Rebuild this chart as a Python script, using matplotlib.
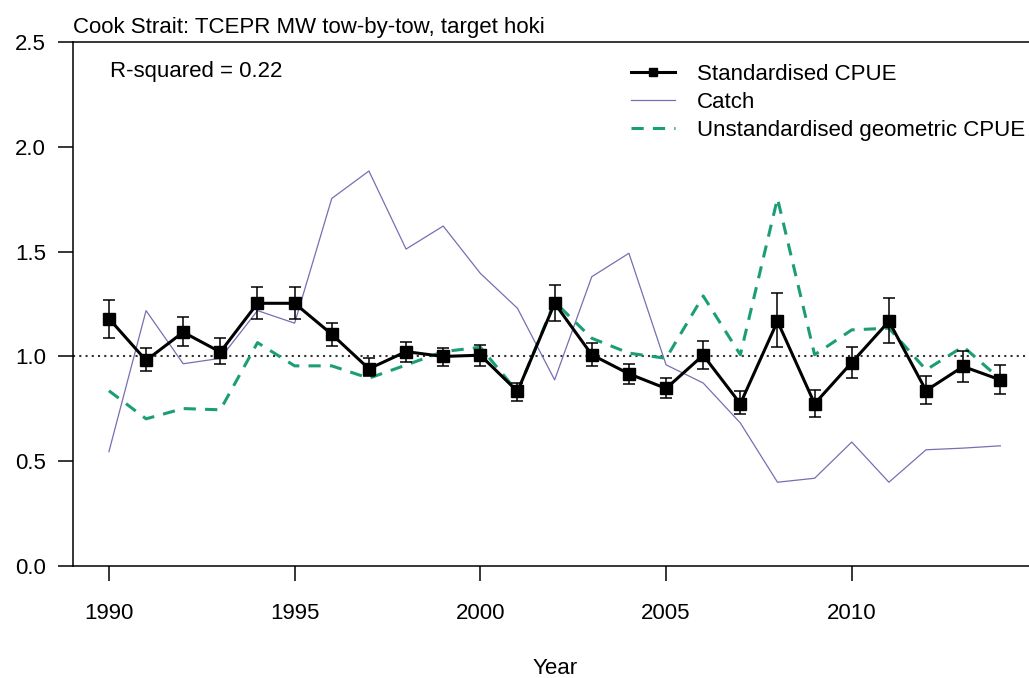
import matplotlib
matplotlib.use("Agg")
import matplotlib.pyplot as plt

plt.rcParams['font.family'] = ['Liberation Sans', 'DejaVu Sans']
plt.rcParams['font.size'] = 16

# data
years = list(range(1990, 2015))
std_cpue = [1.18, 0.98, 1.115, 1.02, 1.253, 1.253, 1.105, 0.94, 1.022, 0.999,
            1.005, 0.832, 1.253, 1.007, 0.916, 0.846, 1.005, 0.773, 1.167, 0.773,
            0.97, 1.167, 0.836, 0.951, 0.887]
std_upper = [1.27, 1.04, 1.187, 1.088, 1.331, 1.331, 1.161, 0.99, 1.07, 1.041,
             1.054, 0.872, 1.342, 1.062, 0.964, 0.898, 1.075, 0.833, 1.304, 0.84,
             1.042, 1.279, 0.905, 1.027, 0.956]
std_lower = [1.088, 0.93, 1.05, 0.964, 1.178, 1.178, 1.05, 0.906, 0.972, 0.951,
             0.951, 0.787, 1.166, 0.951, 0.865, 0.80, 0.938, 0.724, 1.043, 0.71,
             0.898, 1.062, 0.773, 0.878, 0.819]
catch = [0.544, 1.218, 0.964, 0.99, 1.218, 1.158, 1.754, 1.885, 1.512, 1.622,
         1.396, 1.229, 0.887, 1.38, 1.492, 0.959, 0.872, 0.681, 0.398, 0.417,
         0.59, 0.398, 0.553, 0.561, 0.572]
unstd_cpue = [0.835, 0.701, 0.75, 0.744, 1.065, 0.954, 0.954, 0.895, 0.958, 1.022,
              1.043, 0.83, 1.26, 1.086, 1.015, 0.99, 1.288, 1.007, 1.754, 1.007,
              1.126, 1.134, 0.935, 1.046, 0.89]

err_low = [m - l for m, l in zip(std_cpue, std_lower)]
err_high = [u - m for m, u in zip(std_cpue, std_upper)]

fig = plt.figure(figsize=(10.29, 6.78), dpi=100)
ax = fig.add_axes([0.0712, 0.1659, 0.9356, 0.7717])

ax.axhline(1.0, color='#333333', linestyle=(0, (1, 2)), linewidth=1.5, zorder=1)
ax.plot(years, catch, color='#7570B3', linewidth=0.9, label='Catch', zorder=2)
ax.plot(years, unstd_cpue, color='#1B9E77', linewidth=2.2, dashes=(4, 3),
        label='Unstandardised geometric CPUE', zorder=3)
ax.errorbar(years, std_cpue, yerr=[err_low, err_high], fmt='none', ecolor='black',
            elinewidth=1.1, capsize=4, capthick=1.1, zorder=4)
ax.plot(years, std_cpue, color='black', linewidth=2.2, marker='s', markersize=8,
        label='Standardised CPUE', zorder=5)

ax.set_xlim(1989.04, 2014.96)
ax.set_ylim(0, 2.5)
ax.set_xticks([1990, 1995, 2000, 2005, 2010])
ax.set_yticks([0.0, 0.5, 1.0, 1.5, 2.0, 2.5])
ax.set_yticklabels(['0.0', '0.5', '1.0', '1.5', '2.0', '2.5'])
ax.tick_params(direction='out', length=10.8, width=1.1)
ax.tick_params(axis='x', pad=16)
ax.tick_params(axis='y', pad=9)
for s in ax.spines.values():
    s.set_linewidth(1.1)

ax.set_xlabel('Year', labelpad=25)
ax.text(0.0, 1.017, 'Cook Strait: TCEPR MW tow-by-tow, target hoki',
        transform=ax.transAxes, ha='left', va='baseline')
ax.text(0.038, 0.933, 'R-squared = 0.22', transform=ax.transAxes,
        ha='left', va='baseline')

h, l = ax.get_legend_handles_labels()
order = [2, 0, 1]
ax.legend([h[i] for i in order], [l[i] for i in order], loc='upper left',
          bbox_to_anchor=(631 / 1029, 1 - 64 / 678), bbox_transform=fig.transFigure,
          frameon=False, borderpad=0, borderaxespad=0, handlelength=2.0,
          handletextpad=0.95, labelspacing=0.31, markerscale=0.8)

fig.savefig('out.png', dpi=100)
